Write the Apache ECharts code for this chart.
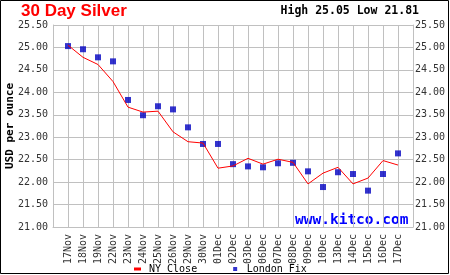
<!DOCTYPE html>
<html>
<head>
<meta charset="utf-8">
<script src="https://cdn.jsdelivr.net/npm/echarts@6/dist/echarts.min.js"></script>
<style>
html, body { margin: 0; padding: 0; background: #fff; }
#chart { width: 450px; height: 275px; }
</style>
</head>
<body>
<div id="chart"></div>
<script>
// dates on the x axis
var dates = ['17Nov','18Nov','19Nov','22Nov','23Nov','24Nov','25Nov','26Nov','29Nov','30Nov',
	'01Dec','02Dec','03Dec','06Dec','07Dec','08Dec','09Dec','10Dec','13Dec','14Dec','15Dec','16Dec','17Dec'];
// NY close (red line)
var nyClose = [25.05,24.78,24.62,24.24,23.67,23.56,23.58,23.12,22.90,22.87,
	22.31,22.36,22.53,22.40,22.51,22.44,21.96,22.20,22.33,21.96,22.09,22.48,22.38];
// London fix (blue squares)
var londonFix = [25.03,24.96,24.78,24.69,23.83,23.49,23.69,23.62,23.22,22.85,
	22.85,22.40,22.35,22.33,22.42,22.43,22.24,21.89,22.22,22.18,21.81,22.18,22.64];
var yTicks = [21.00,21.50,22.00,22.50,23.00,23.50,24.00,24.50,25.00,25.50];

var mono = 'DejaVu Sans Mono';
var gridColor = '#c0c0c0';

// pad one empty slot each side so the points sit inside the frame
var xData = [''].concat(dates, ['']);
function pad(arr) { return [null].concat(arr, [null]); }

function yAxisCfg(pos) {
	return {
		type: 'value',
		position: pos,
		min: yTicks[0],
		max: yTicks[yTicks.length - 1],
		interval: 0.5,
		name: pos == 'left' ? 'USD per ounce' : '',
		nameLocation: 'middle',
		nameGap: 37,
		nameMoveOverlap: false,
		nameTextStyle: { fontFamily: mono, fontSize: 11, fontWeight: 'bold', color: '#000' },
		axisLine: { show: true, lineStyle: { color: gridColor } },
		axisTick: { show: false },
		axisLabel: {
			margin: pos == 'left' ? 5 : 2,
			fontFamily: mono, fontSize: 10, color: '#333',
			formatter: function (v) { return v.toFixed(2); }
		},
		splitLine: { show: pos == 'left', lineStyle: { color: gridColor, width: 1 } }
	};
}

var myChart = echarts.init(document.getElementById('chart'));
myChart.setOption({
	animation: false,
	title: [
		{ text: '30 Day Silver', left: 21, top: 3, padding: 0,
			textStyle: { color: '#ff0000', fontSize: 17, fontWeight: 'bold', fontFamily: 'Liberation Sans' } },
		{ text: 'High 25.05 Low 21.81', right: 31, top: 5, padding: 0,
			textStyle: { color: '#000', fontSize: 11.5, fontWeight: 'bold', fontFamily: mono } }
	],
	grid: { left: 53, right: 37, top: 25, bottom: 48, outerBoundsMode: 'none', containLabel: false },
	legend: {
		left: 134, top: 264, padding: 0,
		itemWidth: 7, itemHeight: 4, itemGap: 36,
		textStyle: { fontFamily: mono, fontSize: 10, color: '#000', padding: [0, 0, 0, 3] },
		data: [
			{ name: 'NY Close', icon: 'path://M0,0h7v3h-7z' },
			{ name: 'London Fix', icon: 'path://M0,0h1v1h-1z' }
		]
	},
	xAxis: {
		type: 'category',
		data: xData,
		boundaryGap: false,
		axisLine: { show: true, lineStyle: { color: gridColor } },
		axisTick: { show: false },
		axisLabel: { interval: 0, rotate: 90, margin: 7, fontFamily: mono, fontSize: 10, color: '#333' },
		splitLine: { show: true, interval: 0, lineStyle: { color: gridColor, width: 1 } }
	},
	yAxis: [yAxisCfg('left'), yAxisCfg('right')],
	graphic: [
		{ type: 'text', left: 295, top: 213,
			style: { text: 'www.kitco.com', fill: '#0000ff', font: 'bold 14.5px "DejaVu Sans Mono"' } },
		{ type: 'rect', shape: { x: 0.5, y: 0.5, width: 448, height: 273 },
			style: { fill: 'none', stroke: '#000', lineWidth: 1 } }
	],
	series: [
		{
			name: 'NY Close', type: 'line', data: pad(nyClose),
			showSymbol: false, symbol: 'none',
			itemStyle: { color: '#ff0000' },
			lineStyle: { color: '#ff0000', width: 1 }
		},
		{
			name: 'London Fix', type: 'scatter', data: pad(londonFix),
			symbol: 'rect', symbolSize: 6,
			itemStyle: { color: '#0000c0' }
		}
	]
});
</script>
</body>
</html>
